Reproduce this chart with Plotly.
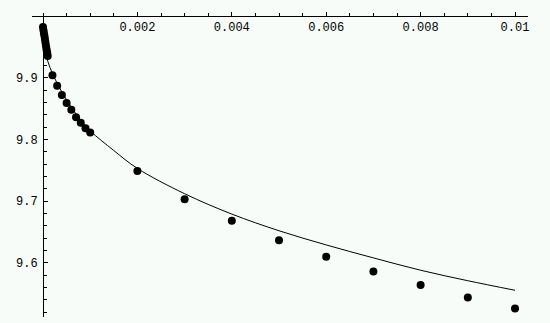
import plotly.graph_objects as go

# Data points
data_x = [0.0, 0.00001, 0.00002, 0.00003, 0.00004, 0.00005, 0.00006, 0.00007, 0.00008, 0.00009,
          0.0001, 0.0002, 0.0003, 0.0004, 0.0005, 0.0006, 0.0007, 0.0008, 0.0009, 0.001,
          0.002, 0.003, 0.004, 0.005, 0.006, 0.007, 0.008, 0.009, 0.01]
data_y = [9.982, 9.977, 9.972, 9.968, 9.963, 9.958, 9.953, 9.948, 9.944, 9.940,
          9.935, 9.904, 9.887, 9.872, 9.859, 9.848, 9.836, 9.827, 9.818, 9.811,
          9.749, 9.703, 9.668, 9.6365, 9.610, 9.586, 9.564, 9.544, 9.526]

# Fitted curve samples
fit_x = [0.00001, 0.00003, 0.00005, 0.0001, 0.0002, 0.0003, 0.0005, 0.00075, 0.001,
         0.0015, 0.002, 0.003, 0.004, 0.005, 0.006, 0.007, 0.008, 0.009, 0.01]
fit_y = [9.985, 9.963, 9.950, 9.927, 9.907, 9.891, 9.864, 9.836, 9.814,
         9.782, 9.753, 9.712, 9.679, 9.652, 9.629, 9.608, 9.588, 9.571, 9.5555]

x_ticks = [0.002, 0.004, 0.006, 0.008, 0.01]
x_tick_text = ["0.002", "0.004", "0.006", "0.008", "0.01"]
y_ticks = [9.6, 9.7, 9.8, 9.9]
y_tick_text = ["9.6", "9.7", "9.8", "9.9"]

BG = "#F7FCF8"
FONT = dict(family="Liberation Mono, Courier New, monospace", size=12, color="black")

fig = go.Figure()
fig.add_trace(go.Scatter(x=fit_x, y=fit_y, mode="lines", line=dict(color="black", width=1, shape="spline"),
                         hoverinfo="skip"))
fig.add_trace(go.Scatter(x=data_x, y=data_y, mode="markers",
                         marker=dict(color="black", size=8, line=dict(width=0))))

x_min, x_max = -0.000233, 0.010275
y_min, y_max = 9.5122, 10.0

fig.update_layout(
    width=550, height=323,
    margin=dict(l=32, r=22, t=16, b=6, pad=0),
    paper_bgcolor=BG, plot_bgcolor=BG,
    showlegend=False,
    font=FONT,
    xaxis=dict(range=[x_min, x_max], anchor="free", position=1, side="bottom",
               showgrid=False, zeroline=False, showline=True, linecolor="black", linewidth=1,
               ticks="inside", ticklen=4, tickwidth=1, tickcolor="black",
               tickvals=x_ticks, ticktext=x_tick_text, tickfont=FONT,
               minor=dict(tickvals=[i * 0.0005 for i in range(0, 21)], ticks="inside", ticklen=3,
                          tickcolor="black", tickwidth=1)),
    yaxis=dict(range=[y_min, y_max], anchor="free", position=(0 - x_min) / (x_max - x_min), side="left",
               showgrid=False, zeroline=False, showline=True, linecolor="black", linewidth=1,
               ticks="inside", ticklen=4, tickwidth=1, tickcolor="black",
               ticklabelstandoff=3,
               tickvals=y_ticks, ticktext=y_tick_text, tickfont=FONT,
               minor=dict(tickvals=[9.52 + i * 0.02 for i in range(0, 25)], ticks="inside", ticklen=3,
                          tickcolor="black", tickwidth=1)),
)

fig.write_html("out.html")
